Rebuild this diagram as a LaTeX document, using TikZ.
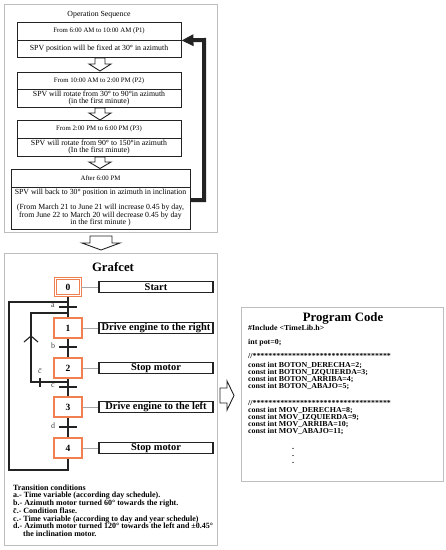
\documentclass[tikz,border=0pt]{standalone}
\usepackage{fontspec}
\setmainfont{Liberation Serif}
\newfontfamily\codefont[FakeStretch=1.04]{Liberation Serif}
\usetikzlibrary{arrows.meta}
\definecolor{stepor}{RGB}{240,128,80}
\definecolor{framegray}{RGB}{190,190,190}
\definecolor{ink}{RGB}{35,35,35}
\newcommand\tightlines{\lineskiplimit=-100pt\relax}
\begin{document}
\begin{tikzpicture}[x=1pt,y=-1pt,
  frame/.style={draw=framegray,line width=0.8pt},
  opbox/.style={draw=ink,line width=0.9pt,minimum width=164pt,inner sep=0pt,align=center,font=\fontsize{6.8}{7.3}\selectfont},
  opbody/.style={font=\fontsize{7.8}{7.4}\selectfont\tightlines},
  hollow/.style={draw=ink,line width=0.9pt,fill=white,line join=miter},
  stepbox/.style={draw=stepor,line width=1.2pt,minimum width=28pt,minimum height=20pt,inner sep=0pt,font=\fontsize{9.5}{10}\selectfont\bfseries,fill=white},
  actbox/.style={draw=ink,line width=1.1pt,minimum width=114pt,minimum height=11pt,inner sep=0pt,font=\fontsize{10.4}{10}\selectfont\bfseries},
  link/.style={draw=black!35,line width=0.8pt},
  flow/.style={draw=ink,line width=1.1pt},
  tlabel/.style={inner sep=0pt,font=\fontsize{8}{8}\selectfont,text=black!75},
  fb/.style={draw=ink,line width=4pt,line join=miter,-{Triangle[length=12pt,width=11pt]}}
]
\useasboundingbox (0,0) rectangle (446,550);
\fill[white] (0,0) rectangle (446,550);

% ---------------- Operation sequence ----------------
\draw[frame] (4,4) rectangle (217,232);
\node[inner sep=0pt,font=\fontsize{7.8}{8}\selectfont] (optitle) at (99,15) {Operation Sequence};

\node[opbox,minimum height=18pt] (p1a) at (99,31) {From 6:00 AM to 10:00 AM (P1)};
\node[opbox,opbody,minimum height=17pt] (p1b) at (99,48.5) {SPV position will be fixed at 30° in azimuth};

\node[opbox,minimum height=17pt] (p2a) at (99,80.5) {From 10:00 AM to 2:00 PM (P2)};
\node[opbox,opbody,minimum height=18pt] (p2b) at (99,98) {SPV will rotate from 30° to 90°in azimuth\\(in the first minute)};

\node[opbox,minimum height=18pt] (p3a) at (99,129) {From 2:00 PM to 6:00 PM (P3)};
\node[opbox,opbody,minimum height=18pt] (p3b) at (99,147) {SPV will rotate from 90° to 150°in azimuth\\(In the first minute)};

\node[opbox,minimum width=179pt,minimum height=18pt] (p4a) at (100.5,178) {After 6:00 PM};
\node[opbox,opbody,minimum width=179pt,minimum height=42pt] (p4b) at (100.5,208) {SPV will back to 30° position in azimuth in inclination\\[7.6pt](From March 21 to June 21 will increase 0.45 by day,\\from June 22 to March 20 will decrease 0.45 by day\\in the first minute )};

\draw[hollow] (95,58) -- (105,58) -- (105,64) -- (111,64) -- (100,71) -- (89,64) -- (95,64) -- cycle;
\draw[hollow] (95,108) -- (105,108) -- (105,113) -- (111,113) -- (100,120) -- (89,113) -- (95,113) -- cycle;
\draw[hollow] (95,157) -- (105,157) -- (105,162) -- (111,162) -- (100,168.5) -- (89,162) -- (95,162) -- cycle;

\draw[fb] ([yshift=8pt]p4b.east) -- (204,200) -- (204,40) -- (p1a.south east);

% arrow down to grafcet
\draw[hollow] (90,236) -- (112,236) -- (112,243) -- (120,243) -- (101,250) -- (82,243) -- (90,243) -- cycle;

% ---------------- Grafcet ----------------
\draw[frame] (4,253) rectangle (217,545);
\node[inner sep=0pt,font=\fontsize{12.8}{13}\selectfont\bfseries] (gtitle) at (113,267) {Grafcet};

\coordinate (o1) at (68,302);
\coordinate (ta) at (68,307);
\coordinate (l2) at (68,313);
\coordinate (tb) at (68,347);
\coordinate (l1) at (68,382);
\coordinate (tc) at (68,387);
\coordinate (td) at (68,427);
\coordinate (tcb) at (40,382);

% loops
\draw[flow] (68,458) -- (68,470) -- (9,470) -- (9,302) -- (o1);
\draw[flow] (l1) -- (31,382) -- (31,313) -- (l2);
\draw[flow] (24,342) -- (31,336) -- (38,342);

% main line
\draw[flow] (68,297) -- (68,438);

\node[stepbox,double=white,double distance=1.8pt,line width=1pt,minimum width=25pt,minimum height=17pt] (s0) at (68,287) {0};
\node[stepbox] (s1) at (68,328) {1};
\node[stepbox] (s2) at (68,368) {2};
\node[stepbox] (s3) at (68,407) {3};
\node[stepbox] (s4) at (68,448) {4};

\node[actbox] (a0) at (156,287) {Start};
\node[actbox] (a1) at (156,328) {Drive engine to the right};
\node[actbox] (a2) at (156,368) {Stop motor};
\node[actbox] (a3) at (156,407) {Drive engine to the left};
\node[actbox] (a4) at (156,448) {Stop motor};

\draw[link] (s0) -- (a0);
\draw[link] (s1) -- (a1);
\draw[link] (s2) -- (a2);
\draw[link] (s3) -- (a3);
\draw[link] (s4) -- (a4);

\draw[flow] ([xshift=-9pt]ta) -- ([xshift=9pt]ta);
\draw[flow] ([xshift=-9pt]tb) -- ([xshift=9pt]tb);
\draw[flow] ([xshift=-9pt]tc) -- ([xshift=9pt]tc);
\draw[flow] ([xshift=-9pt]td) -- ([xshift=9pt]td);
\draw[flow] ([yshift=4.5pt]tcb) -- ([yshift=-4.5pt]tcb);

\node[tlabel] (la) at (53,306) {a};
\node[tlabel] (lb) at (53,346) {b};
\node[tlabel] (lc) at (53,386) {c};
\node[tlabel] (ld) at (53,426) {d};
\node[tlabel] (lcb) at (40,371) {\={c}};

\node[anchor=north west,inner sep=0pt,align=left,font=\fontsize{8}{7.7}\selectfont\bfseries\tightlines] (cond) at (13,484.5) {Transition conditions\\
a.- Time variable (according day schedule).\\
b.- Azimuth motor turned 60° towards the right.\\
\={c}.- Condition flase.\\
c.- Time variable (according to day and year schedule)\\
d.- Azimuth motor turned 120° towards the left and ±0.45°\\
\hspace*{10pt}the inclination motor.};

% arrow to program code
\draw[hollow] (220,388) -- (227,388) -- (227,381) -- (234,395.5) -- (227,410) -- (227,403) -- (220,403) -- cycle;

% ---------------- Program code ----------------
\draw[frame] (241,307) rectangle (443,481);
\node[inner sep=0pt,font=\fontsize{12.8}{13}\selectfont\bfseries] (ptitle) at (343,318) {Program Code};
\node[anchor=north west,inner sep=0pt,align=left,font=\codefont\fontsize{7.6}{7}\selectfont\bfseries\tightlines] (code) at (248,325.5) {\#Include <TimeLib.h>\\[7pt]
int pot=0;\\[7pt]
//***********************************\\[2pt]
const int BOTON\_DERECHA=2;\\
const int BOTON\_IZQUIERDA=3;\\
const int BOTON\_ARRIBA=4;\\
const int BOTON\_ABAJO=5;\\[10pt]
//***********************************\\
const int MOV\_DERECHA=8;\\
const int MOV\_IZQUIERDA=9;\\
const int MOV\_ARRIBA=10;\\
const int MOV\_ABAJO=11;};
\node[inner sep=0pt,align=center,font=\fontsize{8}{7}\selectfont\bfseries] (dots) at (293,455.5) {.\\.\\.};
\end{tikzpicture}
\end{document}
